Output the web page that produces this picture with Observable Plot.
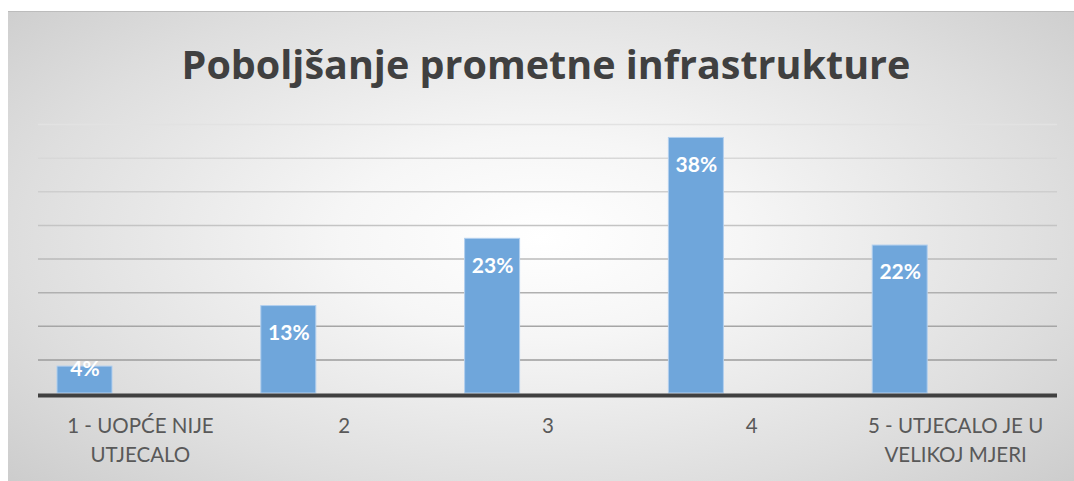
<!DOCTYPE html>
<html>
<head>
<meta charset="utf-8">
<script src="https://cdn.jsdelivr.net/npm/d3@7"></script>
<script src="https://cdn.jsdelivr.net/npm/@observablehq/plot@0.6"></script>
<style>
  body { margin: 0; background: #ffffff; }
  #chart {
    position: absolute; left: 8px; top: 11px; width: 1066px; height: 470px;
    background: radial-gradient(ellipse 75% 85% at 50% 48%, #ffffff 0%, #f6f6f6 25%, #dedede 65%, #c6c6c6 100%);
    border-top: 1px solid #bcbcbc;
    box-sizing: border-box;
    overflow: hidden;
  }
  #title {
    position: absolute; left: 10px; width: 1056px; top: 33px; text-align: center;
    font-family: "Open Sans", sans-serif; font-weight: bold; font-size: 39.5px; line-height: 1;
    color: #404040; white-space: nowrap;
  }
  #plot { position: absolute; left: 0; top: 89px; }
</style>
</head>
<body>
<div id="chart">
  <div id="title"></div>
  <div id="plot"></div>
</div>
<script>
const titleText = "Poboljšanje prometne infrastrukture";
const categories = ["1 - UOPĆE NIJE\nUTJECALO", "2", "3", "4", "5 - UTJECALO JE U\nVELIKOJ MJERI"];
const values = [4, 13, 23, 38, 22];
const gridValues = [5, 10, 15, 20, 25, 30, 35, 40];

document.getElementById("title").textContent = titleText;

const data = categories.map((c, i) => ({category: c, value: values[i]}));

const W = 1066, H = 381;
const bandW = (W - 30 - 17) / categories.length;
const barInsetLeft = 19, barWidth = 55;
const labelDx = barInsetLeft + barWidth / 2 - bandW / 2;

const plot = Plot.plot({
  width: W,
  height: H,
  marginLeft: 30,
  marginRight: 17,
  marginTop: 23,
  marginBottom: 89,
  style: {background: "transparent", fontFamily: "Lato, sans-serif", overflow: "visible"},
  x: {type: "band", domain: categories, padding: 0, round: false, label: null},
  y: {domain: [0, 40], label: null, axis: null},
  marks: [
    Plot.ruleY(gridValues, {stroke: "url(#gridGrad)", strokeWidth: 1.5}),
    Plot.barY(data, {
      x: "category", y: "value", fill: "#6fa6db", stroke: "#b2cfee", strokeWidth: 1,
      insetLeft: barInsetLeft, insetRight: bandW - barInsetLeft - barWidth
    }),
    Plot.ruleY([0], {stroke: "#404040", strokeWidth: 4, dy: 2}),
    Plot.text(data.filter(d => d.value >= 10), {
      x: "category", y: "value", text: d => d.value + "%", dx: labelDx, dy: 27,
      fill: "white", fontWeight: "bold", fontSize: 21, fontFamily: "Lato, sans-serif"
    }),
    Plot.text(data.filter(d => d.value < 10), {
      x: "category", y: "value", text: d => d.value + "%", dx: labelDx, dy: 3,
      fill: "white", fontWeight: "bold", fontSize: 21, fontFamily: "Lato, sans-serif"
    }),
    Plot.axisX({
      tickSize: 0, tickPadding: 19, fontSize: 20.5, lineHeight: 1.42,
      fill: "#595959", label: null
    })
  ]
});

const yScale = plot.scale("y");
const yTop = yScale.apply(40), yBot = yScale.apply(5);
d3.select(plot).insert("defs", ":first-child").html(
  `<linearGradient id="gridGrad" gradientUnits="userSpaceOnUse" x1="0" y1="${yTop}" x2="0" y2="${yBot}">
     <stop offset="0" stop-color="#e2e2e2"/>
     <stop offset="1" stop-color="#9c9c9c"/>
   </linearGradient>`
);
document.getElementById("plot").appendChild(plot);
</script>
</body>
</html>
